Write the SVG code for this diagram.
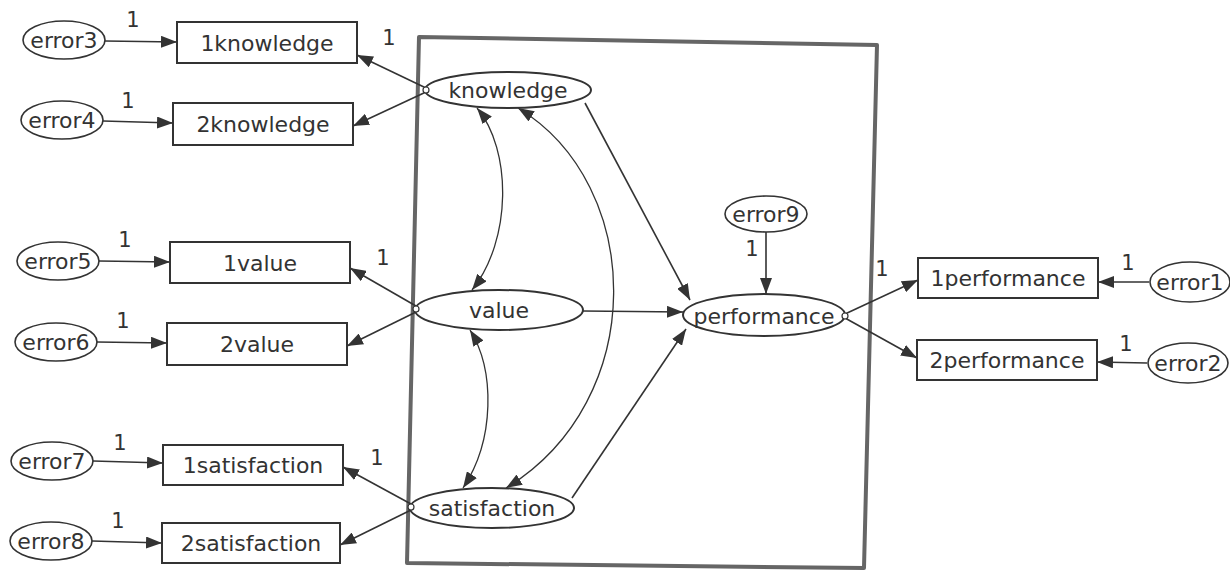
<svg xmlns="http://www.w3.org/2000/svg" width="1230" height="575" viewBox="0 0 1230 575">
  <style>
    .box { fill: #fff; stroke: #333; stroke-width: 2; }
    .lat { fill: #fff; stroke: #333; stroke-width: 2; }
    .err { fill: #fff; stroke: #333; stroke-width: 1.6; }
    .lbl { font-family: "DejaVu Sans", sans-serif; font-size: 22px; fill: #333; text-anchor: middle; dominant-baseline: central; }
    .one { font-family: "DejaVu Sans", sans-serif; font-size: 21px; fill: #333; text-anchor: middle; }
    .path { fill: none; stroke: #333; stroke-width: 1.6; marker-end: url(#arr); }
    .cov { fill: none; stroke: #333; stroke-width: 1.3; marker-start: url(#arr); marker-end: url(#arr); }
    .frame { fill: none; stroke: #666; stroke-width: 4; stroke-linejoin: round; }
    .port { fill: #fff; stroke: #333; stroke-width: 1.2; }
  </style>
  <defs>
    <marker id="arr" viewBox="0 0 16 12" refX="16" refY="6" markerWidth="16" markerHeight="12" markerUnits="userSpaceOnUse" orient="auto-start-reverse">
      <path d="M0,0 L16,6 L0,12 Z" fill="#333"/>
    </marker>
  </defs>

  <rect width="1230" height="575" fill="#fff"/>

  <!-- structural model frame -->
  <polygon class="frame" points="419,37 877,45 864,568 407,563"/>

  <!-- connectors -->
  <g id="connectors">
    <!-- error terms to indicators -->
    <path class="path" d="M105,41 L177,42"/>
    <path class="path" d="M103,121 L173,123"/>
    <path class="path" d="M99,261 L170,262"/>
    <path class="path" d="M97,342 L167,343"/>
    <path class="path" d="M93,461 L163,463"/>
    <path class="path" d="M92,541 L162,543"/>
    <path class="path" d="M1149,282 L1098,282"/>
    <path class="path" d="M1147,363 L1097,362"/>
    <!-- latent factors to indicators -->
    <path class="path" d="M426,88 L357,55"/>
    <path class="path" d="M426,92 L353,126"/>
    <path class="path" d="M416,306 L350,268"/>
    <path class="path" d="M416,312 L347,346"/>
    <path class="path" d="M411,504 L343,467"/>
    <path class="path" d="M411,510 L340,545"/>
    <path class="path" d="M845,314 L918,280"/>
    <path class="path" d="M845,318 L917,358"/>
    <!-- structural paths -->
    <path class="path" d="M585,103 L690,300"/>
    <path class="path" d="M583,311 L683,312"/>
    <path class="path" d="M572,498 L686,329"/>
    <path class="path" d="M766,232 L766,294"/>
    <!-- covariances -->
    <path class="cov" d="M477,108 C512,150 512,240 472,290"/>
    <path class="cov" d="M518,108 C645,185 650,400 506,488"/>
    <path class="cov" d="M470,330 C495,370 495,440 463,488"/>
  </g>

  <!-- regression weight labels -->
  <g id="weights">
    <text class="one" x="133" y="27">1</text>
    <text class="one" x="128" y="108">1</text>
    <text class="one" x="389" y="45">1</text>
    <text class="one" x="125" y="247">1</text>
    <text class="one" x="123" y="328">1</text>
    <text class="one" x="383" y="265">1</text>
    <text class="one" x="120" y="450">1</text>
    <text class="one" x="118" y="528">1</text>
    <text class="one" x="377" y="465">1</text>
    <text class="one" x="752" y="256">1</text>
    <text class="one" x="882" y="276">1</text>
    <text class="one" x="1128" y="270">1</text>
    <text class="one" x="1126" y="351">1</text>
  </g>

  <!-- indicators -->
  <g id="n_1knowledge"><rect class="box" x="177" y="22" width="180" height="41"/><text class="lbl" x="267" y="43">1knowledge</text></g>
  <g id="n_2knowledge"><rect class="box" x="173" y="103" width="180" height="42"/><text class="lbl" x="263" y="124">2knowledge</text></g>
  <g id="n_1value"><rect class="box" x="170" y="242" width="180" height="41"/><text class="lbl" x="260" y="263">1value</text></g>
  <g id="n_2value"><rect class="box" x="167" y="323" width="180" height="42"/><text class="lbl" x="257" y="344">2value</text></g>
  <g id="n_1satisfaction"><rect class="box" x="163" y="445" width="180" height="40"/><text class="lbl" x="253" y="465">1satisfaction</text></g>
  <g id="n_2satisfaction"><rect class="box" x="162" y="523" width="178" height="40"/><text class="lbl" x="251" y="543">2satisfaction</text></g>
  <g id="n_1performance"><rect class="box" x="918" y="258" width="180" height="40"/><text class="lbl" x="1008" y="278">1performance</text></g>
  <g id="n_2performance"><rect class="box" x="917" y="340" width="180" height="40"/><text class="lbl" x="1007" y="360">2performance</text></g>

  <!-- error terms -->
  <g id="n_error3"><ellipse class="err" cx="64" cy="40" rx="41" ry="19"/><text class="lbl" x="64" y="40">error3</text></g>
  <g id="n_error4"><ellipse class="err" cx="62" cy="120" rx="41" ry="19"/><text class="lbl" x="62" y="120">error4</text></g>
  <g id="n_error5"><ellipse class="err" cx="58" cy="261" rx="41" ry="19"/><text class="lbl" x="58" y="261">error5</text></g>
  <g id="n_error6"><ellipse class="err" cx="56" cy="342" rx="41" ry="19"/><text class="lbl" x="56" y="342">error6</text></g>
  <g id="n_error7"><ellipse class="err" cx="52" cy="461" rx="41" ry="19"/><text class="lbl" x="52" y="461">error7</text></g>
  <g id="n_error8"><ellipse class="err" cx="51" cy="541" rx="41" ry="19"/><text class="lbl" x="51" y="541">error8</text></g>
  <g id="n_error9"><ellipse class="err" cx="766" cy="214" rx="41" ry="18"/><text class="lbl" x="766" y="214">error9</text></g>
  <g id="n_error1"><ellipse class="err" cx="1190" cy="282" rx="40" ry="20"/><text class="lbl" x="1190" y="282">error1</text></g>
  <g id="n_error2"><ellipse class="err" cx="1188" cy="363" rx="40" ry="20"/><text class="lbl" x="1188" y="363">error2</text></g>

  <!-- latent factors -->
  <g id="n_knowledge"><ellipse class="lat" cx="508" cy="90" rx="83" ry="18"/><circle class="port" cx="426" cy="90" r="3"/><text class="lbl" x="508" y="90">knowledge</text></g>
  <g id="n_value"><ellipse class="lat" cx="499" cy="310" rx="84" ry="20"/><circle class="port" cx="416" cy="309" r="3"/><text class="lbl" x="499" y="310">value</text></g>
  <g id="n_performance"><ellipse class="lat" cx="764" cy="315" rx="81" ry="21"/><circle class="port" cx="845" cy="316" r="3"/><text class="lbl" x="764" y="316">performance</text></g>
  <g id="n_satisfaction"><ellipse class="lat" cx="492" cy="508" rx="82" ry="20"/><circle class="port" cx="411" cy="507" r="3"/><text class="lbl" x="492" y="508">satisfaction</text></g>
</svg>
